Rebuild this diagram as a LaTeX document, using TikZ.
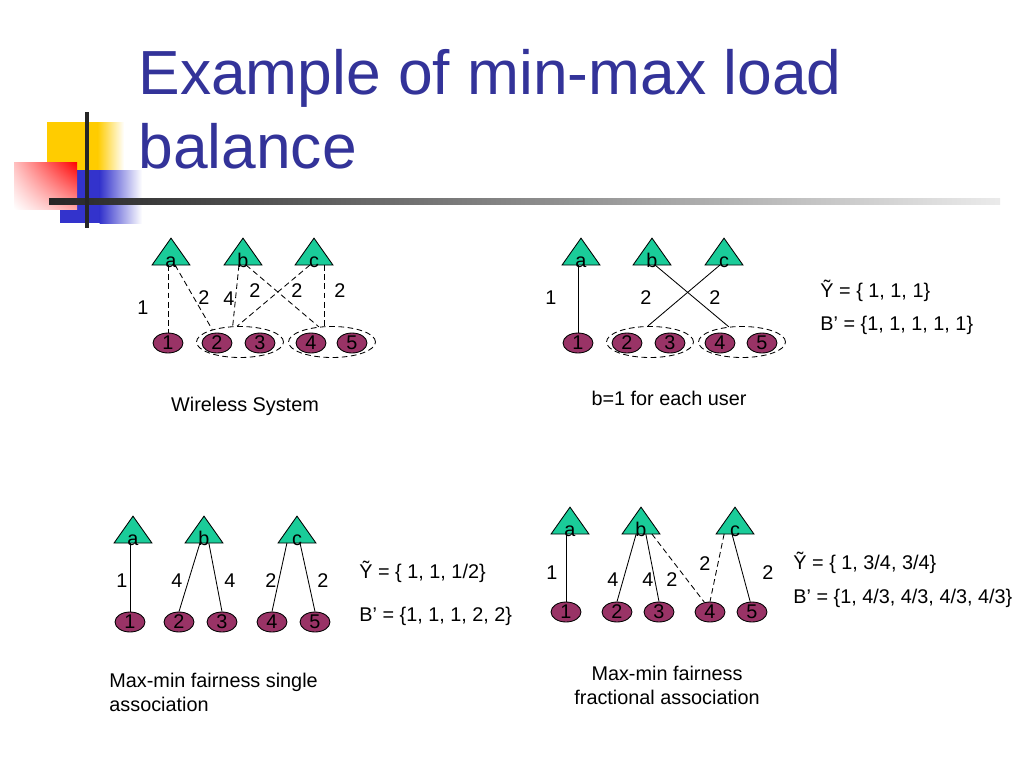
\documentclass[tikz,border=0pt]{standalone}
\usepackage{fontspec}
\setmainfont{Liberation Sans}
\usetikzlibrary{shapes.geometric,shadings}

\definecolor{titleblue}{RGB}{51,51,153}
\definecolor{apgreen}{RGB}{26,204,153}
\definecolor{userpurple}{RGB}{153,51,102}
\definecolor{logoyellow}{RGB}{255,204,0}
\definecolor{logoblue}{RGB}{51,51,204}

\begin{document}
\begin{tikzpicture}[x=0.024805cm,y=-0.024805cm,line width=0.6pt,
                    every node/.style={font=\fontsize{14}{17}\selectfont},
                    ap node/.style={inner sep=0pt,minimum width=0.918cm,minimum height=0.645cm,anchor=south,
                      append after command={\pgfextra{\path[draw,fill=apgreen] (\tikzlastnode.south west)
                        -- (\tikzlastnode.north) -- (\tikzlastnode.south east) -- cycle;}}},
                    user node/.style={ellipse,draw,fill=userpurple,inner sep=0pt,minimum width=0.744cm,minimum height=0.496cm},
                    group node/.style={ellipse,draw,dash pattern=on 4pt off 2.5pt,minimum width=2.158cm,minimum height=0.769cm},
                    weight/.style={inner sep=0pt},
                    set node/.style={anchor=west,inner sep=0pt},
                    title node/.style={anchor=base west,inner sep=0pt,text=titleblue,font=\fontsize{44}{53}\selectfont},
                    dash line/.style={dash pattern=on 4pt off 2.5pt}]

  \path[use as bounding box,fill=white] (0,0) rectangle (1024,768);

  % logo
  \fill[logoyellow] (47,122) rectangle (98,170);
  \shade[left color=logoyellow,right color=white] (97.5,122) rectangle (124,170);
  \fill[logoblue] (60,170) rectangle (100,223);
  \shade[left color=logoblue,right color=white] (99.5,170) rectangle (142,223);
  \shade[upper left=red!25,upper right=red,lower left=white,lower right=red!35] (14,162) rectangle (77,209);
  \shade[left color=black!85,middle color=black!65,right color=black!8] (49,198.5) rectangle (1000,204);
  \draw[line width=2.2pt,black!85] (87,112) -- (87,228);

  \node[title node] (t1) at (138,94) {Example of min-max load};
  \node[title node] (t2) at (138,168) {balance};

  % wireless system
  \node[group node] (g1) at (240,342) {};
  \node[group node] (g2) at (332,342) {};
  \node[ap node,label={[anchor=base,yshift=-0.05cm]south:a}] (a1) at (171,265) {};
  \node[ap node,label={[anchor=base,yshift=-0.05cm]south:b}] (b1) at (243,265) {};
  \node[ap node,label={[anchor=base,yshift=-0.05cm]south:c}] (c1) at (314,265) {};
  \node[user node] (n11) at (168,343) {1};
  \node[user node] (n12) at (217,343) {2};
  \node[user node] (n13) at (260,343) {3};
  \node[user node] (n14) at (311,343) {4};
  \node[user node] (n15) at (352,343) {5};

  \path[dash line]
    (a1.south -| n11.north) edge (n11.north)
    ([xshift=0.1cm]a1.south) edge (g1.156)
    ([xshift=-0.1cm]b1.south) edge (g1.115)
    ([xshift=-0.1cm]c1.south) edge (g1.100)
    ([xshift=0.075cm]b1.south) edge (g2.131)
    (g2.115 |- c1.south) edge (g2.115);

  \node[weight] (w11) at (143,308) {1};
  \node[weight] (w12) at (204,298) {2};
  \node[weight] (w13) at (229,299) {4};
  \node[weight] (w14) at (255,291) {2};
  \node[weight] (w15) at (297,291) {2};
  \node[weight] (w16) at (340,291) {2};
  \node (cap1) at (245,406) {Wireless System};

  % b=1 for each user
  \node[group node] (g3) at (650,342) {};
  \node[group node] (g4) at (742,342) {};
  \node[ap node,label={[anchor=base,yshift=-0.05cm]south:a}] (a2) at (581,265) {};
  \node[ap node,label={[anchor=base,yshift=-0.05cm]south:b}] (b2) at (652,265) {};
  \node[ap node,label={[anchor=base,yshift=-0.05cm]south:c}] (c2) at (724,265) {};
  \node[user node] (n21) at (578,343) {1};
  \node[user node] (n22) at (627,343) {2};
  \node[user node] (n23) at (670,343) {3};
  \node[user node] (n24) at (720,343) {4};
  \node[user node] (n25) at (762,343) {5};

  \path
    (a2.south -| n21.north) edge (n21.north)
    ([xshift=0.075cm]b2.south) edge (g4.131)
    ([xshift=-0.1cm]c2.south) edge (g3.98);

  \node[weight] (w21) at (551,298) {1};
  \node[weight] (w22) at (646,298) {2};
  \node[weight] (w23) at (715,298) {2};
  \node[set node] (y2) at (820,291) {Ỹ = \{ 1, 1, 1\}};
  \node[set node] (s2) at (820,325) {B’ = \{1, 1, 1, 1, 1\}};
  \node (cap2) at (669,398) {b=1 for each user};

  % single association
  \node[ap node,label={[anchor=base,yshift=-0.05cm]south:a}] (a3) at (133,543) {};
  \node[ap node,label={[anchor=base,yshift=-0.05cm]south:b}] (b3) at (204,543) {};
  \node[ap node,label={[anchor=base,yshift=-0.05cm]south:c}] (c3) at (297,543) {};
  \node[user node] (n31) at (130,622) {1};
  \node[user node] (n32) at (179,622) {2};
  \node[user node] (n33) at (222,622) {3};
  \node[user node] (n34) at (272,622) {4};
  \node[user node] (n35) at (315,622) {5};

  \path
    (a3.south -| n31.north) edge (n31.north)
    ([xshift=-0.1cm]b3.south) edge (n32.north)
    ([xshift=0.12cm]b3.south) edge (n33.north)
    ([xshift=-0.25cm]c3.south) edge (n34.north)
    ([xshift=0.075cm]c3.south) edge (n35.north);

  \node[weight] (w31) at (122,581) {1};
  \node[weight] (w32) at (177,581) {4};
  \node[weight] (w33) at (230,581) {4};
  \node[weight] (w34) at (271,581) {2};
  \node[weight] (w35) at (323,581) {2};
  \node[set node] (y3) at (359,572) {Ỹ = \{ 1, 1, 1/2\}};
  \node[set node] (s3) at (359,616) {B’ = \{1, 1, 1, 2, 2\}};
  \node[align=left,anchor=west,inner sep=0pt] (cap3) at (109,692) {Max-min fairness single\\association};

  % fractional association
  \node[ap node,label={[anchor=base,yshift=-0.05cm]south:a}] (a4) at (570,534) {};
  \node[ap node,label={[anchor=base,yshift=-0.05cm]south:b}] (b4) at (641,534) {};
  \node[ap node,label={[anchor=base,yshift=-0.05cm]south:c}] (c4) at (735,534) {};
  \node[user node] (n41) at (566,612) {1};
  \node[user node] (n42) at (617,612) {2};
  \node[user node] (n43) at (659,612) {3};
  \node[user node] (n44) at (710,612) {4};
  \node[user node] (n45) at (752,612) {5};

  \path
    (a4.south -| n41.north) edge (n41.north)
    ([xshift=-0.12cm]b4.south) edge (n42.north)
    ([xshift=0.12cm]b4.south) edge (n43.north)
    ([xshift=-0.075cm]c4.south) edge (n45.100)
    ([xshift=0.27cm]b4.south) edge[dash line] (n44.120)
    ([xshift=-0.27cm]c4.south) edge[dash line] (n44.north);

  \node[weight] (w41) at (552,573) {1};
  \node[weight] (w42) at (613,580) {4};
  \node[weight] (w43) at (648,580) {4};
  \node[weight] (w44) at (672,580) {2};
  \node[weight] (w45) at (705,564) {2};
  \node[weight] (w46) at (768,573) {2};
  \node[set node] (y4) at (793,563) {Ỹ = \{ 1, 3/4, 3/4\}};
  \node[set node] (s4) at (793,598) {B’ = \{1, 4/3, 4/3, 4/3, 4/3\}};
  \node[align=center] (cap4) at (667,685) {Max-min fairness\\fractional association};
\end{tikzpicture}
\end{document}
